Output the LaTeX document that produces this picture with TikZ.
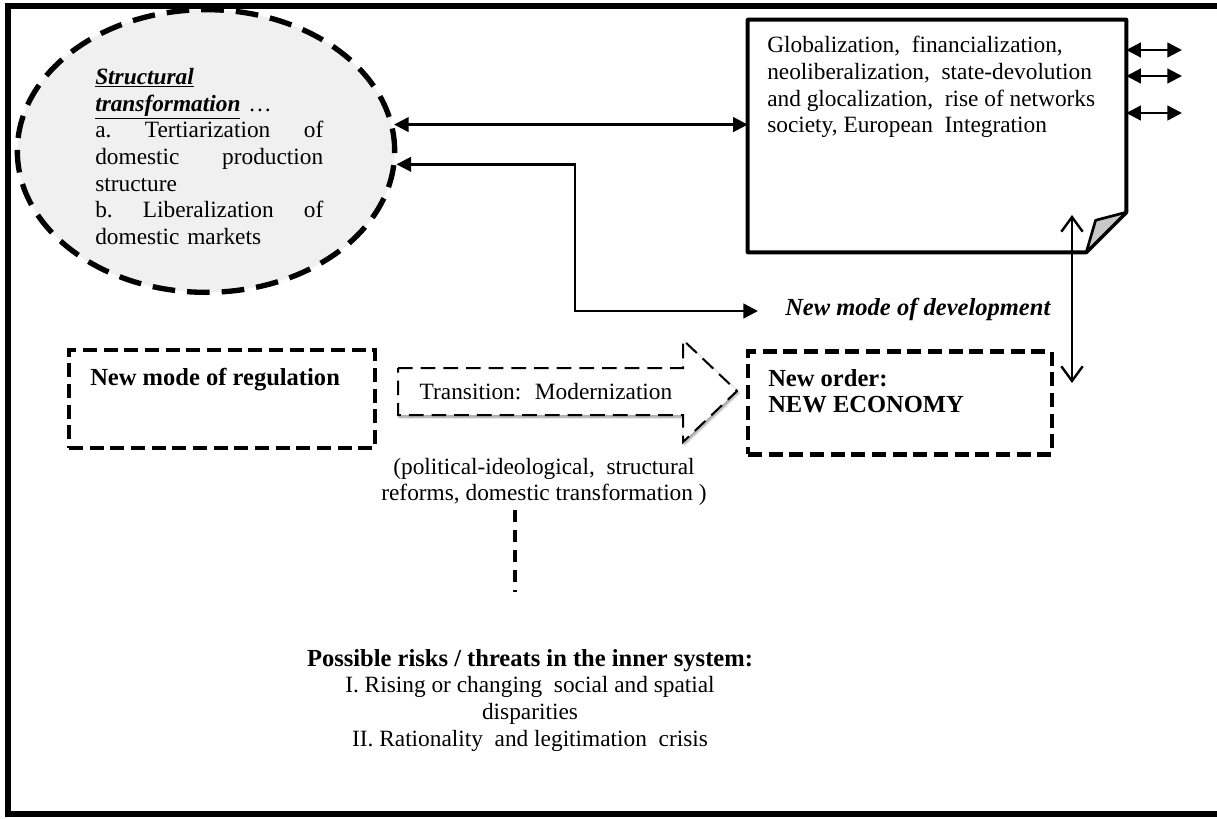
\documentclass[tikz,border=0pt]{standalone}
\usepackage{fontspec}
\setmainfont{Liberation Serif}
\usetikzlibrary{arrows.meta, shapes.geometric, shadows.blur, calc}

\definecolor{ovalgray}{RGB}{240,240,240}
\definecolor{foldgray}{RGB}{200,200,200}
\newcommand{\bodysize}{\fontsize{17.5}{20}\selectfont}
\newcommand{\boldsize}{\fontsize{18.4}{20}\selectfont}

\tikzset{
  plaintxt/.style={inner sep=0pt, align=left, font=\bodysize},
  boldtxt/.style={inner sep=0pt, align=left, font=\boldsize\bfseries},
  ovaldash/.style={line width=4pt, dash pattern=on 17pt off 9pt},
  boxdash/.style={draw, line width=3.3pt, dash pattern=on 10.5pt off 5pt},
  arrowbox/.style={line width=1.5pt, dash pattern=on 11pt off 6pt, fill=white,
    blur shadow={shadow blur steps=8, shadow xshift=1pt, shadow yshift=-1.5pt, shadow opacity=45}},
  dbl/.style={line width=1.8pt, {Triangle[length=11pt,width=11pt]}-{Triangle[length=11pt,width=11pt]}},
  vdbl/.style={line width=1.8pt, {Straight Barb[length=11pt,width=16pt]}-{Straight Barb[length=11pt,width=16pt]}},
}

\begin{document}
\begin{tikzpicture}[x=0.75pt, y=-0.75pt, font=\bodysize]
\useasboundingbox (0,0) rectangle (1217,818);

% outer frame
\draw[line width=4.5pt] (1217,6) -- (8,6) -- (8,814) -- (1217,814);

% structural transformation
\node[ellipse, draw, ovaldash, fill=ovalgray, minimum width=283pt, minimum height=212pt] (struct) at (206,151) {};
\node[plaintxt, text width=171pt, anchor=north west] (structtxt) at (95,68)
  {\underline{\textbf{\textit{Structural}}}\\
   \underline{\textbf{\textit{transformation}}} \dots\\
   a.\hfill Tertiarization\hfill of\\
   domestic\hfill production\\
   structure\\
   b.\hfill Liberalization\hfill of\\
   domestic markets};

% globalization box with folded corner
\node[minimum width=283.5pt, minimum height=174pt, inner sep=0pt] (glob) at (937,136) {};
\draw[line width=3pt, line join=round]
  (glob.north west) -- (glob.north east) -- ([yshift=30pt]glob.south east)
  -- ([xshift=-30pt]glob.south east) -- (glob.south west) -- cycle;
\draw[line width=2pt, line join=round, fill=foldgray]
  ([xshift=-30pt]glob.south east) -- ([xshift=-23pt,yshift=24pt]glob.south east)
  -- ([yshift=30pt]glob.south east) -- cycle;
\node[plaintxt, anchor=north west] (globtxt) at (767,36)
  {Globalization,~ financialization,\\
   neoliberalization,~ state-devolution\\
   and glocalization,~ rise of networks\\
   society, European~ Integration};

\foreach \yy [count=\i] in {50,76,113} {
  \coordinate (out\i) at (1182,\yy);
  \draw[dbl] (out\i -| glob.east) -- (out\i);
}

% links to the oval
\draw[dbl] (struct.8) -- (struct.8 -| glob.west);
\coordinate (bend) at (575,311);
\coordinate (devtip) at (758,311);
\draw[dbl] (struct.-4) -| (bend) -- (devtip);
\node[boldtxt, anchor=west, font=\boldsize\bfseries\itshape] (dev) at (785,309) {New mode of development};

\coordinate (vtop) at (1072,215);
\coordinate (vbot) at (1072,383);
\draw[vdbl] (vtop) -- (vbot);

% regulation -> new order
\node[boxdash, minimum width=229.5pt, minimum height=73.5pt] (reg) at (222,399) {};
\node[boldtxt, anchor=north west] (regtxt) at (90,368) {New mode of regulation};

\draw[arrowbox] (398,368) -- (683,368) -- (683,340) -- (737,391)
  -- (683,442) -- (683,415) -- (398,415) -- cycle;
\node[plaintxt] (trans) at (546,392) {Transition:~ Modernization};

\node[boxdash, minimum width=228pt, minimum height=77pt] (order) at (900,403) {};
\node[boldtxt, anchor=north west] (ordertxt) at (768,369) {New order:\\ NEW ECONOMY};

\node[plaintxt, align=center] (reforms) at (544,482)
  {(political-ideological,~ structural\\ reforms, domestic transformation )};

% risks
\coordinate (d1) at (515,510);
\coordinate (d2) at (515,592);
\draw[line width=3pt, dash pattern=on 9pt off 6pt] (d1) -- (d2);

\node[plaintxt, align=center] (risks) at (530,700)
  {{\boldsize\bfseries Possible risks / threats in the inner system:}\\
   I. Rising or changing~ social and spatial\\
   disparities\\
   II. Rationality~ and legitimation~ crisis};
\end{tikzpicture}
\end{document}
